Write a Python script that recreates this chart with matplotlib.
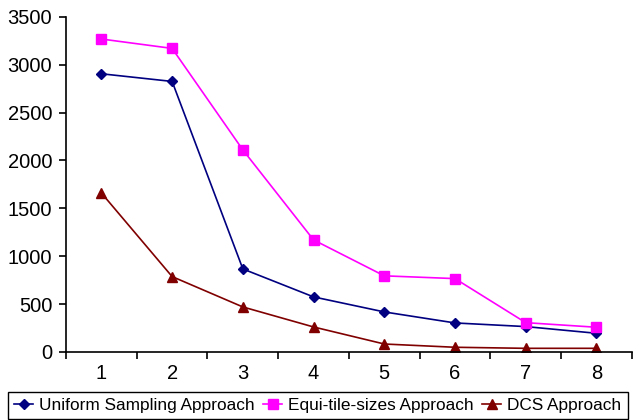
import numpy as np
import matplotlib.pyplot as plt

plt.rcParams['font.family'] = ['Liberation Sans', 'DejaVu Sans']

categories = ["1", "2", "3", "4", "5", "6", "7", "8"]
uniform = [2905, 2825, 867, 575, 418, 303, 265, 195]
equi = [3268, 3170, 2110, 1170, 795, 766, 306, 258]
dcs = [1660, 787, 470, 261, 83, 49, 38, 38]

fig = plt.figure(figsize=(6.35, 4.2), dpi=100)
ax = fig.add_axes([0.104, 0.162, 0.891, 0.798])

x = np.arange(1, len(categories) + 1)
ax.plot(x, uniform, color="#000080", marker="D", markersize=5, lw=1.2, label="Uniform Sampling Approach")
ax.plot(x, equi, color="#FF00FF", marker="s", markersize=7, lw=1.2, label="Equi-tile-sizes Approach")
ax.plot(x, dcs, color="#800000", marker="^", markersize=7, lw=1.2, label="DCS Approach")

ax.set_xlim(0.5, 8.5)
ax.set_ylim(0, 3500)
ax.set_yticks(range(0, 3501, 500))
ax.set_xticks(x)
ax.set_xticklabels(categories)
ax.set_xticks(np.arange(0.5, 9, 1), minor=True)
ax.tick_params(axis="x", which="major", length=0, labelsize=14.5, pad=9)
ax.tick_params(axis="x", which="minor", length=5, width=1.2)
ax.tick_params(axis="y", length=5, width=1.2, labelsize=14.5, pad=5)
for s in ["top", "right"]:
    ax.spines[s].set_visible(False)
for s in ["left", "bottom"]:
    ax.spines[s].set_linewidth(1.2)

fig.legend(loc="upper left", bbox_to_anchor=(8 / 635, 1 - 392 / 420), ncol=3,
           fancybox=False, edgecolor="black", fontsize=12.4, handlelength=1.1,
           handletextpad=0.35, columnspacing=0.5, borderaxespad=0, borderpad=0.35,
           framealpha=1)

fig.savefig("out.png", dpi=100)
